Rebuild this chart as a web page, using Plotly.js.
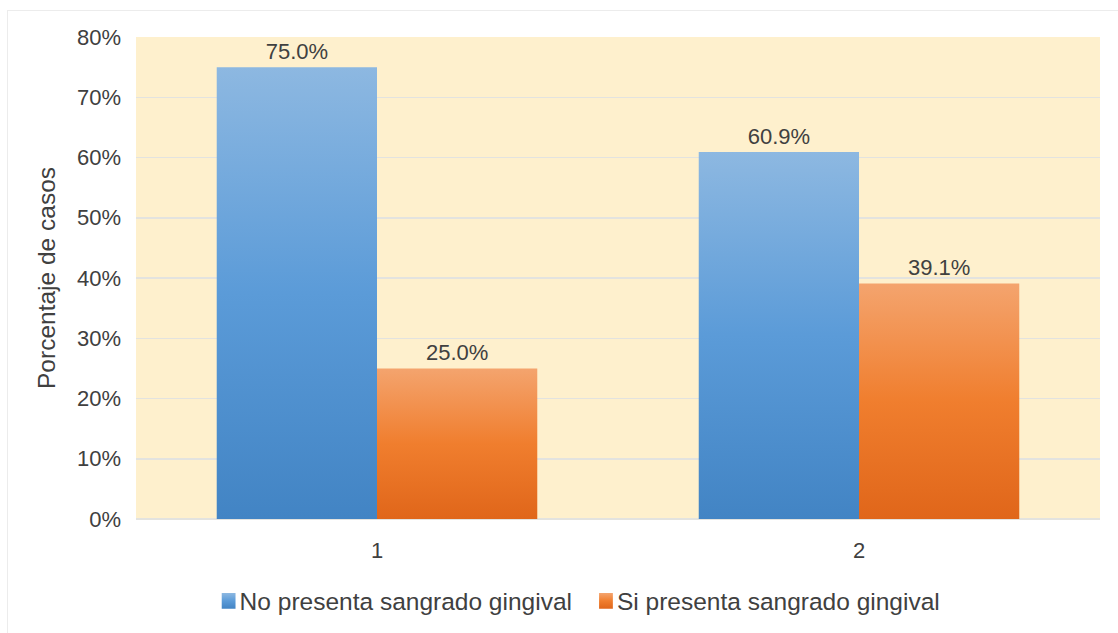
<!DOCTYPE html>
<html>
<head>
<meta charset="utf-8">
<script src="https://cdn.plot.ly/plotly-3.0.1.min.js"></script>
<style>
  html, body { margin: 0; padding: 0; background: #ffffff; }
  #wrap { position: relative; width: 1118px; height: 633px; overflow: hidden; }
  #chart { width: 1118px; height: 633px; }
  #frame { position: absolute; left: 7px; top: 10px; width: 1120px; height: 640px;
           border: 1px solid #ececec; box-sizing: border-box; pointer-events: none; }
</style>
</head>
<body>
<svg width="0" height="0" style="position:absolute">
  <defs>
    <linearGradient id="gradBlue" x1="0" y1="0" x2="0" y2="1">
      <stop offset="0" stop-color="#8DB8E1"/>
      <stop offset="0.5" stop-color="#5B9BD8"/>
      <stop offset="1" stop-color="#4284C4"/>
    </linearGradient>
    <linearGradient id="gradOrange" x1="0" y1="0" x2="0" y2="1">
      <stop offset="0" stop-color="#F4A46E"/>
      <stop offset="0.5" stop-color="#F07E2E"/>
      <stop offset="1" stop-color="#E0661A"/>
    </linearGradient>
  </defs>
</svg>
<div id="wrap">
  <div id="chart"></div>
  <div id="frame"></div>
</div>
<script>
const categories = ["1", "2"];
const seriesNames = ["No presenta sangrado gingival", "Si presenta sangrado gingival"];
const noPresenta = [0.75, 0.609];
const siPresenta = [0.25, 0.391];
const yTickValues = [0, 0.1, 0.2, 0.3, 0.4, 0.5, 0.6, 0.7, 0.8];

const fam = "Liberation Sans, Arial, sans-serif";
const textFont = { family: fam, size: 22, color: "#404040" };
const bigFont = { family: fam, size: 24.5, color: "#404040" };

const traces = [
  {
    type: "bar", name: seriesNames[0], x: categories, y: noPresenta,
    marker: { color: "#5B9BD5" },
    texttemplate: "%{y:.1%}", textposition: "outside", cliponaxis: false,
    textfont: textFont, hoverinfo: "none"
  },
  {
    type: "bar", name: seriesNames[1], x: categories, y: siPresenta,
    marker: { color: "#ED7D31" },
    texttemplate: "%{y:.1%}", textposition: "outside", cliponaxis: false,
    textfont: textFont, hoverinfo: "none"
  }
];

const layout = {
  width: 1118, height: 633,
  margin: { l: 136, r: 18, t: 37, b: 114 },
  paper_bgcolor: "#ffffff",
  plot_bgcolor: "#FEF0CD",
  font: textFont,
  barmode: "group",
  bargap: 0.335,
  bargroupgap: 0,
  showlegend: true,
  legend: {
    orientation: "h", xref: "paper", x: 0.066, xanchor: "left",
    yref: "container", y: 0.0506, yanchor: "middle",
    font: bigFont, bgcolor: "rgba(0,0,0,0)", traceorder: "normal"
  },
  xaxis: {
    type: "category", showgrid: false, showline: false, zeroline: false,
    ticks: "", ticklabelstandoff: 16, tickfont: textFont
  },
  yaxis: {
    range: [0, 0.8], tickvals: yTickValues, tickformat: ".0%",
    showgrid: true, gridcolor: "#E3E3DF", gridwidth: 1.5,
    zeroline: true, zerolinecolor: "#E3E3DF", zerolinewidth: 1.5,
    showline: false, ticks: "", ticklabelstandoff: 14, tickfont: textFont,
    title: { text: "Porcentaje de casos", font: bigFont, standoff: 14 }
  }
};

Plotly.newPlot("chart", traces, layout, { displayModeBar: false, staticPlot: true }).then(function (gd) {
  const grads = ["url(#gradBlue)", "url(#gradOrange)"];
  gd.querySelectorAll(".barlayer .trace").forEach(function (tr, i) {
    tr.querySelectorAll(".point path").forEach(function (p) { p.style.fill = grads[i]; });
  });
  gd.querySelectorAll(".legend .traces").forEach(function (tr, i) {
    tr.querySelectorAll(".legendpoints path").forEach(function (p) {
      p.style.fill = grads[i];
      p.setAttribute("transform", "translate(29,0) scale(1.15,1.3)");
    });
  });
});
</script>
</body>
</html>
